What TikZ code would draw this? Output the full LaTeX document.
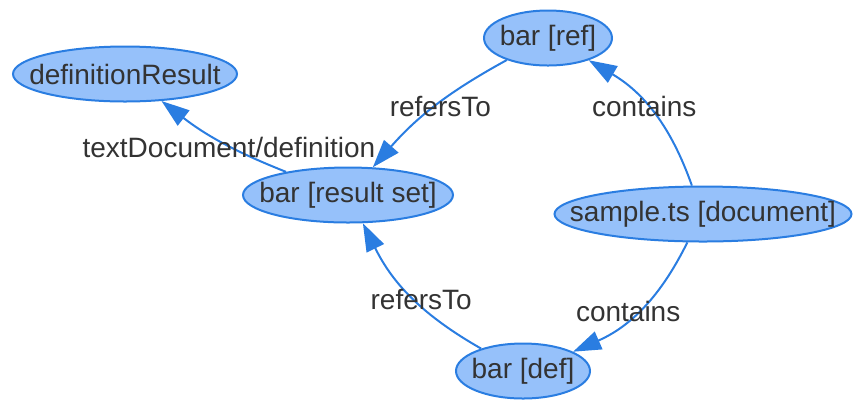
\documentclass[tikz,border=0pt]{standalone}
\usepackage{fontspec}
\setmainfont{Liberation Sans}
\usetikzlibrary{arrows.meta,shapes.geometric}
\definecolor{edgeblue}{HTML}{2A7DE1}
\definecolor{fillblue}{HTML}{96C1FA}
\definecolor{ink}{HTML}{333333}
\newcommand{\ctext}[1]{\makebox[0pt]{#1}}

\begin{document}
\begin{tikzpicture}[x=0.5pt,y=-0.5pt,state/.style={ellipse,draw=edgeblue,fill=fillblue,line width=1pt,inner sep=0pt,minimum height=27.5pt,text=ink,font=\fontsize{14}{16}\selectfont},arr/.style={-{Triangle[length=14pt,width=9.5pt]},draw=edgeblue,line width=1pt},lbl/.style={text=ink,font=\fontsize{14}{16}\selectfont,inner sep=0pt}]
\useasboundingbox (0,0) rectangle (862,409);
\node[state,minimum width=112pt] (defres) at (125,74) {\ctext{definitionResult}};
\node[state,minimum width=64pt] (ref) at (548,38) {\ctext{bar [ref]}};
\node[state,minimum width=105pt] (resset) at (348,195) {\ctext{bar [result set]}};
\node[state,minimum width=148.5pt] (doc) at (703,214) {\ctext{sample.ts [document]}};
\node[state,minimum width=67pt] (def) at (523,371) {\ctext{bar [def]}};
\draw[arr] (resset) to[bend left=8] node[lbl,xshift=4pt,yshift=-3pt]{textDocument/definition} (defres);
\draw[arr] (ref) to[bend right=10] node[lbl,xshift=3pt]{refersTo} (resset);
\draw[arr] (doc) to[bend right=20] node[lbl,xshift=-4.3pt,yshift=3.2pt]{contains} (ref);
\draw[arr] (doc) to[bend left=20] node[lbl,xshift=-6.5pt,yshift=-1.5pt]{contains} (def);
\draw[arr] (def) to[bend left=17] node[lbl,xshift=5pt,yshift=-1.5pt]{refersTo} (resset);
\end{tikzpicture}
\end{document}
